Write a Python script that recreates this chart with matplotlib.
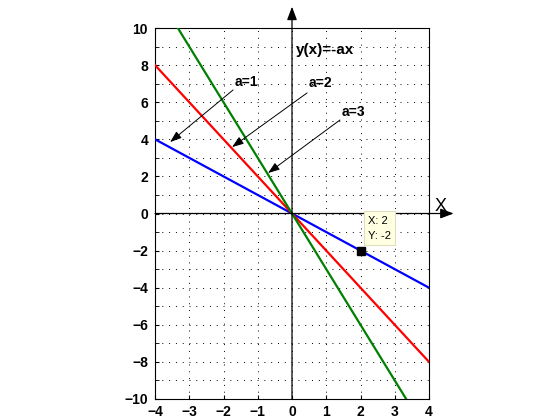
import matplotlib
matplotlib.use("Agg")
import matplotlib.pyplot as plt
import numpy as np

# data
a_values = [1, 2, 3]
line_colors = ["#0000ff", "#ff0000", "#008000"]
x_range = [-4, 4]
labels = ["a=1", "a=2", "a=3"]
label_pos = [(-1.34, 7.1), (0.82, 7.05), (1.78, 5.47)]
arrow_tips = [(-3.56, 3.85), (-1.75, 3.58), (-0.70, 2.18)]
arrow_tails = [(-1.72, 6.66), (0.44, 6.5), (1.40, 5.04)]
tip_point = (2, -2)
x_ticks = [-4, -3, -2, -1, 0, 1, 2, 3, 4]
y_ticks = [-10, -8, -6, -4, -2, 0, 2, 4, 6, 8, 10]

plt.rcParams['font.family'] = ['Liberation Sans', 'DejaVu Sans']

fig = plt.figure(figsize=(5.6, 4.2), dpi=100)
ax = fig.add_axes([155/560, 21/420, 274/560, 371/420])

xs = np.array(x_range, dtype=float)
for a, c in zip(a_values, line_colors):
    ax.plot(xs, -a*xs, color=c, lw=1.6, zorder=3)

ax.set_xlim(-4, 4)
ax.set_ylim(-10, 10)
ax.set_xticks(x_ticks)
ax.set_yticks(y_ticks)
ax.set_yticks(np.arange(-9, 10, 2), minor=True)
ax.tick_params(which='both', direction='in', length=3, labelsize=10)
ax.tick_params(axis='x', pad=4)
ax.tick_params(axis='y', pad=5)
for lab in ax.get_xticklabels() + ax.get_yticklabels():
    lab.set_fontweight('bold')
ax.grid(True, which='both', color='black', linestyle=(0, (1, 6)), lw=0.7)
for s in ax.spines.values():
    s.set_linewidth(0.8)

# axis arrows
ax.annotate("", xy=(0, 11.15), xytext=(0, -10), xycoords='data',
            arrowprops=dict(arrowstyle="-|>,head_length=0.8,head_width=0.3",
                            color='black', lw=0.9, shrinkA=0, shrinkB=0),
            annotation_clip=False)
ax.annotate("", xy=(4.72, 0), xytext=(-4, 0), xycoords='data',
            arrowprops=dict(arrowstyle="-|>,head_length=0.8,head_width=0.3",
                            color='black', lw=0.9, shrinkA=0, shrinkB=0),
            annotation_clip=False)
ax.text(4.35, 0.4, "X", fontsize=13, ha='center', va='center', clip_on=False)

ax.text(0.1, 8.8, "y(x)=-ax", fontsize=11, fontweight='bold', ha='left', va='center')

for lab, pos, tip, tail in zip(labels, label_pos, arrow_tips, arrow_tails):
    ax.text(pos[0], pos[1], lab, fontsize=10, fontweight='bold', ha='center', va='center')
    ax.annotate("", xy=tip, xytext=tail,
                arrowprops=dict(arrowstyle="-|>,head_length=0.7,head_width=0.25",
                                color='black', lw=0.7, shrinkA=0, shrinkB=0))

# data tip
ax.plot([tip_point[0]], [tip_point[1]], marker='s', color='black', ms=6, zorder=5)
ax.text(2.22, -0.8, "X: %g\nY: %g" % tip_point, fontsize=8, ha='left', va='center',
        linespacing=1.6,
        bbox=dict(boxstyle='square,pad=0.4', fc='#ffffe1', ec='#e0dcc0', lw=0.8),
        zorder=6)

fig.savefig("out.png", dpi=100, facecolor='white')
